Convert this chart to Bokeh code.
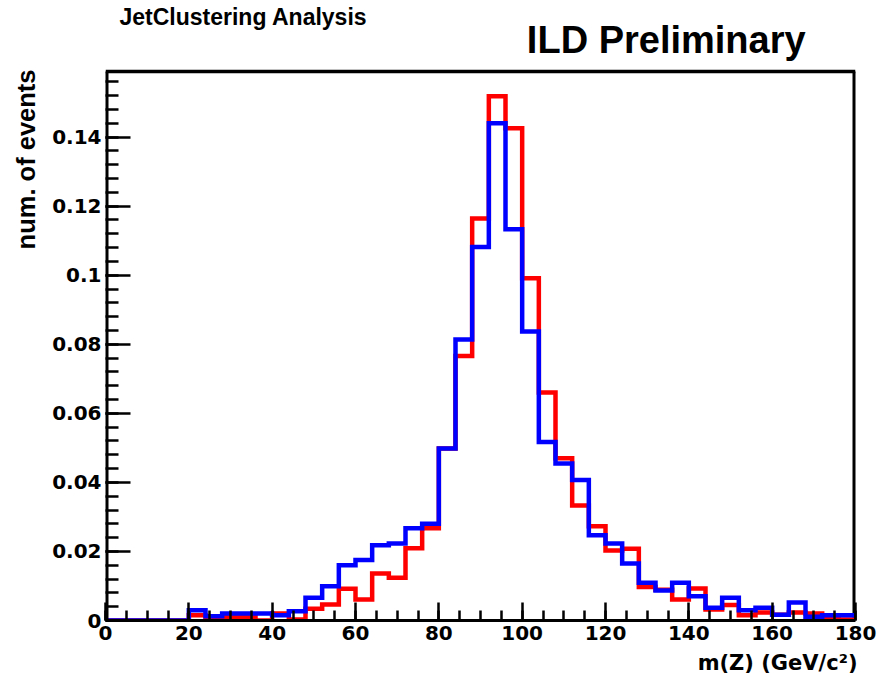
from bokeh.plotting import figure
from bokeh.models import Range1d, FixedTicker, CustomJSTickFormatter, Title
from bokeh.core.properties import value
from bokeh.embed import file_html
from bokeh.resources import INLINE

# ---- data ----
bin_edges = [0, 4, 8, 12, 16, 20, 24, 28, 32, 36, 40, 44, 48, 52, 56, 60, 64, 68, 72, 76,
             80, 84, 88, 92, 96, 100, 104, 108, 112, 116, 120, 124, 128, 132, 136, 140,
             144, 148, 152, 156, 160, 164, 168, 172, 176, 180]

red_values = [0, 0, 0, 0, 0, 0.0015, 0.0005, 0.001, 0.001, 0.0, 0.002, 0.0003,
              0.0034, 0.0046, 0.0092, 0.0061, 0.0136, 0.0124, 0.0209, 0.0267,
              0.0498, 0.0766, 0.1164, 0.1518, 0.1426, 0.0991, 0.066, 0.047,
              0.0333, 0.0273, 0.0203, 0.0208, 0.0097, 0.0089, 0.0061, 0.0093,
              0.0032, 0.0045, 0.0015, 0.0023, 0.0017, 0.0023, 0.002, 0.001, 0.0003]

blue_values = [0, 0, 0, 0, 0, 0.003, 0.0012, 0.002, 0.002, 0.002, 0.0015, 0.0027,
               0.0066, 0.0099, 0.016, 0.0175, 0.0218, 0.0223, 0.0267, 0.028,
               0.0498, 0.0814, 0.1082, 0.144, 0.1133, 0.0837, 0.0517, 0.0455,
               0.0407, 0.0247, 0.0223, 0.0165, 0.0109, 0.0087, 0.0109, 0.007,
               0.0037, 0.0066, 0.003, 0.0037, 0.0017, 0.0052, 0.0011, 0.0015, 0.0015]

x_major_ticks = [0, 20, 40, 60, 80, 100, 120, 140, 160, 180]
y_major_ticks = [0, 0.02, 0.04, 0.06, 0.08, 0.1, 0.12, 0.14]
x_min, x_max = 0, 180
y_min, y_max = 0, 0.159

title_left = "JetClustering Analysis"
title_right = "ILD Preliminary"
x_label = "m(Z) (GeV/c\u00b2)"
y_label = "num. of events"

# ---- layout constants (pixels) ----
W, H = 886, 680
ML, MR, MT, MB = 103, 31, 0, 60
AXES_TOP_PX = 71                 # top edge of the histogram box
ZERO_PX = H - MB                 # y pixel of the x axis
PX_PER_Y = (ZERO_PX - AXES_TOP_PX) / (y_max - y_min)
PX_PER_X = (W - ML - MR) / (x_max - x_min)
NUM_FONT = "DejaVu Sans"
TXT_FONT = "Liberation Sans"


def sx_to_x(px):
    return x_min + (px - ML) / PX_PER_X


def sy_to_y(py):
    return y_min + (ZERO_PX - py) / PX_PER_Y


def step_xy(edges, vals):
    xs, ys = [], []
    for i, v in enumerate(vals):
        xs += [edges[i], edges[i + 1]]
        ys += [v, v]
    return xs, ys


# frame covers the whole canvas height so that the header texts are not clipped
p = figure(width=W, height=H, x_range=Range1d(x_min, x_max),
           y_range=Range1d(y_min, sy_to_y(0)),
           output_backend="svg", toolbar_location=None, title=None,
           min_border_left=ML, min_border_right=MR, min_border_top=MT, min_border_bottom=MB)

p.xgrid.visible = False
p.ygrid.visible = False
p.outline_line_color = None
p.background_fill_color = "white"
p.border_fill_color = "white"

# histogram box (top and right edges; left and bottom are the axis lines)
p.line([x_min, x_max], [y_max, y_max], line_color="black", line_width=3.5)
p.line([x_max, x_max], [y_min, y_max], line_color="black", line_width=6)

rx, ry = step_xy(bin_edges, red_values)
bx, by = step_xy(bin_edges, blue_values)
p.line(rx, ry, line_color="#ff0000", line_width=4.5, line_join="miter")
p.line(bx, by, line_color="#0000ff", line_width=4.5, line_join="miter")

# header texts (inside the frame area above the box)
p.text(x=[sx_to_x(117)], y=[sy_to_y(16)], text=[title_left], text_font=value(TXT_FONT),
       text_font_style="bold", text_font_size="23px", text_align="left",
       text_baseline="alphabetic", text_color="black")
p.text(x=[sx_to_x(805)], y=[sy_to_y(39)], text=[title_right], text_font=value(TXT_FONT),
       text_font_style="bold", text_font_size="38px", text_align="right",
       text_baseline="alphabetic", text_color="black")

xa = p.xaxis[0]
xa.ticker = FixedTicker(ticks=x_major_ticks,
                        minor_ticks=[5 * k for k in range(37)])
xa.major_tick_in = 18
xa.major_tick_out = 0
xa.minor_tick_in = 10
xa.minor_tick_out = 0
xa.major_tick_line_width = 2.5
xa.minor_tick_line_width = 2.5
xa.axis_line_width = 3
xa.major_label_text_font = NUM_FONT
xa.major_label_text_font_style = "bold"
xa.major_label_text_font_size = "20px"
xa.major_label_text_color = "black"
xa.major_label_standoff = 5

ya = p.yaxis[0]
ya.ticker = FixedTicker(ticks=y_major_ticks,
                        minor_ticks=[0.004 * k for k in range(40)])
ya.formatter = CustomJSTickFormatter(code="return Number(tick.toFixed(4)).toString();")
ya.major_tick_in = 25
ya.major_tick_out = 0
ya.minor_tick_in = 13
ya.minor_tick_out = 0
ya.major_tick_line_width = 2.5
ya.minor_tick_line_width = 2.5
ya.axis_line_color = None
ya.major_label_text_font = NUM_FONT
ya.major_label_text_font_style = "bold"
ya.major_label_text_font_size = "20px"
ya.major_label_text_color = "black"
ya.major_label_standoff = 4

# left edge of the box
p.line([x_min, x_min], [y_min, y_max], line_color="black", line_width=6)

p.add_layout(Title(text=y_label, align="right", offset=AXES_TOP_PX - 2, standoff=19,
                   text_font=TXT_FONT, text_font_style="bold", text_font_size="25.5px",
                   text_color="black"), "left")
p.add_layout(Title(text=x_label, align="right", offset=-2, standoff=12,
                   text_font=NUM_FONT, text_font_style="bold", text_font_size="21px",
                   text_color="black"), "below")

open("out.html", "w").write(file_html(p, INLINE))
